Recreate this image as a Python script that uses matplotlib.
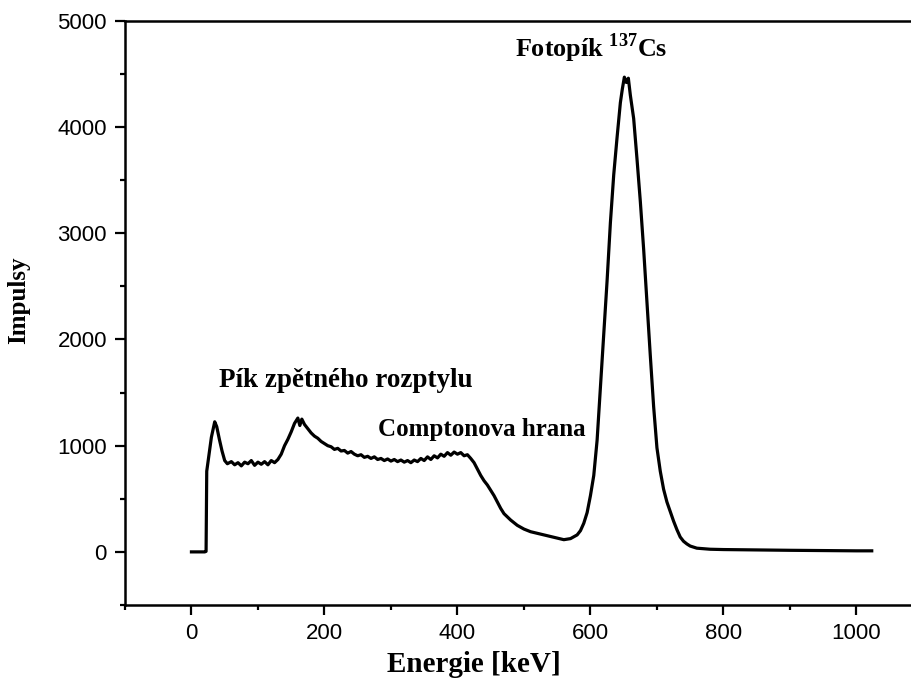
import matplotlib
matplotlib.use("Agg")
import matplotlib.pyplot as plt
from matplotlib.ticker import MultipleLocator

# spectrum (energy in keV, counts)
energy = [0, 10, 20, 22, 23, 26, 30, 35, 38, 42, 46, 50, 54,
          60, 65, 70, 75, 80, 85, 90, 95, 100, 105, 110, 115, 120, 125, 130,
          135, 140, 145, 150, 155, 160, 163, 166, 170, 175, 180, 185, 190,
          195, 200, 205, 210, 215, 220, 225, 230, 235, 240, 245, 250, 255,
          260, 265, 270, 275, 280, 285, 290, 295, 300, 305, 310, 315, 320,
          325, 330, 335, 340, 345, 350, 355, 360, 365, 370, 375, 380, 385,
          390, 395, 400, 405, 410, 415, 420, 425, 430, 435, 440, 445, 450,
          455, 460, 465, 470, 480, 490, 500, 510, 520, 530, 540, 550, 560,
          570, 580, 585, 590, 595, 600, 605, 610, 615, 620, 625, 630, 635,
          640, 645, 648, 651, 654, 657, 660, 665, 670, 675, 680, 685, 690,
          695, 700, 705, 710, 715, 720, 725, 730, 735, 740, 745, 750, 760,
          780, 800, 850, 900, 950, 1000, 1023]
counts = [0, 0, 0, 5, 760, 900, 1080, 1225, 1180, 1060, 950, 860, 830,
          850, 820, 840, 810, 845, 830, 860, 815, 845, 825, 850, 820, 860, 840, 870,
          920, 1000, 1060, 1130, 1210, 1260, 1190, 1250, 1200, 1160, 1120, 1090, 1070,
          1040, 1020, 1000, 990, 965, 975, 950, 955, 930, 945, 920, 905, 915,
          890, 900, 880, 895, 870, 880, 860, 875, 855, 870, 850, 865, 845,
          860, 840, 865, 850, 880, 860, 895, 870, 905, 885, 920, 900, 935,
          910, 940, 920, 935, 905, 915, 880, 840, 780, 720, 670, 630, 580,
          530, 470, 410, 360, 300, 250, 215, 190, 175, 160, 145, 130, 115,
          125, 160, 200, 270, 370, 530, 720, 1050, 1550, 2050, 2550, 3100, 3550,
          3900, 4230, 4360, 4470, 4420, 4460, 4300, 4080, 3700, 3300, 2850, 2350, 1850,
          1370, 980, 760, 590, 470, 380, 290, 210, 140, 100, 75, 55, 35,
          25, 22, 18, 15, 12, 10, 10]

x_major = [0, 200, 400, 600, 800, 1000]
y_major = [0, 1000, 2000, 3000, 4000, 5000]

plt.rcParams['mathtext.fontset'] = 'custom'
plt.rcParams['mathtext.rm'] = 'Liberation Serif'
plt.rcParams['mathtext.bf'] = 'Liberation Serif:bold'

fig = plt.figure(figsize=(9.12, 6.84), dpi=100)
ax = fig.add_axes([0.137, 0.1155, 0.875, 0.854])

ax.plot(energy, counts, color='black', lw=2.3)

ax.set_xlim(-100, 1100)
ax.set_ylim(-500, 5000)
ax.set_xticks(x_major)
ax.set_yticks(y_major)
ax.xaxis.set_minor_locator(MultipleLocator(100))
ax.yaxis.set_minor_locator(MultipleLocator(500))
ax.tick_params(which='major', direction='out', length=7, width=1.6,
               labelsize=16, pad=6)
ax.tick_params(which='minor', direction='out', length=3.5, width=1.6)
for lab in ax.get_xticklabels() + ax.get_yticklabels():
    lab.set_fontfamily('Liberation Sans')
for side in ['left', 'bottom', 'top', 'right']:
    ax.spines[side].set_linewidth(1.8)

serif = dict(family='Liberation Serif', fontweight='bold')
fig.text(0.52, 0.029, 'Energie [keV]', ha='center', va='center', fontsize=21, **serif)
fig.text(0.02, 0.561, 'Impulsy', ha='center', va='center', rotation=90, fontsize=18, **serif)

ax.text(486, 4740, 'Fotopík $^{\\mathbf{137}}$Cs', ha='left', va='center', fontsize=18.8, **serif)
ax.text(42, 1613, 'Pík zpětného rozptylu', ha='left', va='center', fontsize=19.5, **serif)
ax.text(280, 1150, 'Comptonova hrana', ha='left', va='center', fontsize=18, **serif)

fig.savefig('out.png', dpi=100)
